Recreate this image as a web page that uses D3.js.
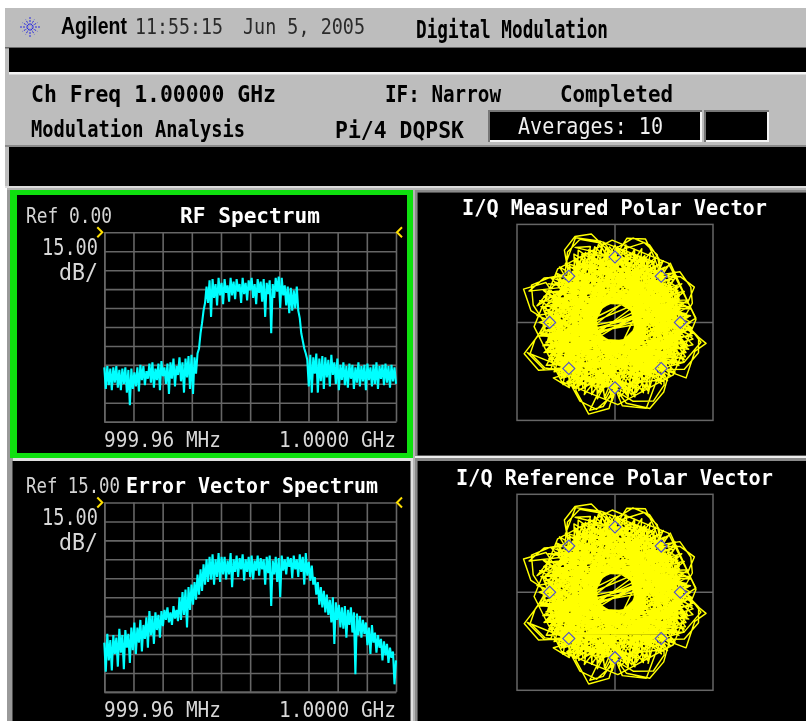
<!DOCTYPE html>
<html><head><meta charset="utf-8">
<script src="https://cdn.jsdelivr.net/npm/d3@7"></script>
<style>html,body{margin:0;padding:0;background:#fff;overflow:hidden}svg{display:block;filter:blur(0.45px)}</style>
</head><body><svg id="c" width="806" height="721"></svg>
<script>
// ---- data ----
const rfSpectrum = [
-107,-124,-106,-121,-108,-125,-107,-119,-106,-123,
-109,-125,-108,-120,-107,-127,-109,-137,-108,-124,
-111,-122,-107,-126,-105,-117,-106,-121,-110,-116,
-104,-119,-103,-123,-108,-117,-104,-125,-102,-114,
-107,-120,-104,-128,-103,-116,-100,-122,-106,-113,
-99,-118,-103,-127,-100,-115,-98,-124,-97,-128,-99,-112,
-96,-92,-80,-72,-62,-56,
-43,-56,-38,-67,-37,-52,-41,-58,-36,-50,
-40,-57,-37,-48,-42,-55,-36,-50,-39,-53,
-37,-47,-41,-56,-36,-49,-40,-54,-38,-46,
-36,-52,-41,-57,-37,-48,-39,-55,-37,-67,
-40,-49,-38,-80,-41,-52,-36,-47,-35,-60,
-36,-50,-42,-58,-43,-64,-44,-62,-46,-60,-43,
-62,-68,-80,-86,-92,-96,-101,
-122,-97,-127,-99,-112,-96,-127,-100,-118,-98,
-124,-99,-115,-101,-122,-97,-113,-103,-120,-100,
-125,-105,-117,-103,-121,-106,-123,-104,-116,-105,
-124,-107,-119,-103,-122,-106,-118,-105,-125,-104,
-117,-107,-122,-105,-120,-103,-124,-106,-116,-105,
-121,-104,-119,-106,-123,-105,-118,-107,-120];
const evSpectrum = [
-96,-119,-89,-110,-94,-118,-90,-105,-92,-115,
-85,-104,-90,-117,-86,-100,-89,-112,-84,-102,
-80,-105,-84,-96,-78,-103,-82,-93,-76,-100,
-71,-90,-75,-97,-72,-86,-74,-92,-71,-83,
-70,-78,-68,-80,-72,-82,-67,-77,-70,-79,
-60,-78,-56,-74,-54,-84,-52,-70,-50,-66,
-48,-62,-42,-58,-38,-55,-34,-50,-30,-48,
-28,-46,-26,-50,-30,-44,-25,-48,-28,-42,
-28,-46,-31,-42,-25,-52,-30,-40,-27,-44,
-29,-38,-26,-47,-30,-40,-28,-44,-27,-46,
-31,-39,-27,-43,-29,-38,-30,-50,-28,-41,
-27,-67,-31,-42,-28,-48,-29,-60,-27,-39,
-30,-42,-28,-36,-29,-45,-27,-38,-30,-44,
-26,-40,-28,-50,-25,-43,-32,-47,-35,-50,
-44,-58,-48,-66,-52,-68,-55,-72,-58,-74,
-62,-80,-60,-97,-64,-78,-66,-84,-68,-85,
-67,-92,-70,-82,-68,-88,-72,-121,-73,-90,
-75,-92,-78,-89,-80,-98,-84,-105,-82,-96,
-88,-104,-90,-100,-93,-110,-95,-106,-97,-112,
-100,-108,-103,-129,-110];
// flat pairs: angle in degrees, radius in hundredths of the constellation radius
const measuredTrace = [
45,100,60,118,70,136,82,130,90,100,
225,108,359,100,122,112,250,103,16,110,158,102,283,114,61,100,196,110,338,106,100,100,
240,120,254,146,266,132,270,100,
231,117,9,102,143,111,275,100,54,108,187,104,325,112,82,100,213,109,350,105,113,116,
190,120,199,147,212,138,225,100,
240,102,24,108,165,100,296,110,72,104,204,113,343,100,127,106,258,110,33,102,150,118,
15,115,24,133,35,122,45,100,
302,100,78,109,228,105,5,112,138,100,270,108,48,114,176,100,318,110,86,102,218,106,
315,100,322,138,340,130,347,143,0,100,
108,100,245,111,20,103,154,108,290,100,66,112,200,105,334,109,96,101,224,114,1,100,
105,140,115,145,125,135,135,100,
263,118,38,105,172,100,309,116,92,104,221,108,182,110,310,102,189,115,331,100,67,108,287,112,2,105,
305,130,292,142,278,125,270,100,
150,122,160,149,172,130,180,100,
108,105,215,110,322,102,70,108,178,100,285,112,30,104,140,110,248,102,355,106,103,100,212,114,320,103,65,110,174,101,281,105,27,108,134,100,244,112,350,104,95,110,205,100,312,108,58,102,168,111,276,100,22,106,128,113,237,101,345,108,90,100,198,110,307,105,52,112,162,100,268,109,15,103,122,107,230,100,
222,127,235,122,225,100,
312,110,32,102,112,108,194,104,275,112,355,100,76,108,158,103,239,110,320,100,40,108,121,104,203,112,284,101,5,107,85,103,167,110,247,100,328,109,50,104,130,110,212,101,293,112,14,100,94,109,176,105,256,108,338,102,58,110,
100,126,115,143,128,120,135,100,
113,104,169,112,224,102,280,110,336,103,31,108,86,112,142,100,197,109,253,104,308,112,3,100,59,108,114,115,170,102,225,110,281,104,337,114,32,100,87,110,
70,130,58,122,45,100,
160,140,148,128,135,100,
188,112,327,108,93,100,236,115,12,104,146,110,294,102,63,108,207,112,341,100,118,106,252,114,28,102,156,112,299,104,75,110,
347,135,330,122,315,100,
290,140,275,128,270,100,
192,103,330,110,89,100,226,106,4,112,130,102,267,110,42,100,180,116,316,100,57,109,193,102,328,112,99,100,233,108,7,110,148,100,279,112,51,103,
254,140,262,130,270,100,
199,142,214,130,225,100,
108,122,118,130,90,100,
168,122,150,110,135,100,
210,112,47,104,171,110,304,100,83,112,219,102,353,108,126,106,260,100,36,112,153,104,288,108,69,100,202,114,340,102,110,108,
10,118,160,116,312,120,100,118,252,116,40,120,190,118,343,116,135,120,285,118,75,116,226,120,17,118,168,116,320,120,110,118,262,116,52,120,203,118,355,116,145,120,296,118,88,116,238,120,30,118,180,116,332,120,122,118,273,116,63,120,214,118,5,116,156,120,307,118,97,116,247,120,37,118,188,116,340,120,130,118,280,116,70,120,222,118,12,116,164,120,316,118,106,116,257,120,47,118,198,116,350,120,140,118,292,116,82,120,233,118,24,116,175,120,326,118,116,116,268,120,58,118,209,116,
330,122,90,118,212,124,334,120,94,116,216,122,337,118,98,124,219,120,341,116,102,122,223,118,344,124,105,120,227,116,348,122,109,118,230,124,352,120,113,116,234,122,356,118,117,124,238,120,0,116,121,122,242,118,3,124,
48,122,92,126,137,120,183,124,228,122,272,126,318,120,2,124,47,124,
45,100,55,118,66,130,78,132,90,112,90,105,102,125,113,138,124,130,135,108,135,105,146,122,156,140,168,128,180,108,180,104,192,125,200,138,213,128,225,105,225,105,236,118,246,132,258,136,270,108,270,104,283,124,296,134,308,122,315,106,315,102,326,128,340,136,350,130,0,106,0,102,14,122,25,128,38,126,45,104,
295,120,30,110,
195,100,5,100,190,102,12,102,200,102,20,105,207,96,28,100,215,100,38,98,
195,104,14,106,
];
const referenceTrace = measuredTrace;
const constellationAngles = [0,45,90,135,180,225,270,315];
const logoSpokes = [0,30,60,90,120,150,180,210,240,270,300,330];
const freqTicks = [0,1,2,3,4,5,6,7,8,9,10];
const levelTicks = [0,1,2,3,4,5,6,7,8,9,10];

// ---- helpers ----
const svg = d3.select("#c");
const rect=(x,y,w,h,f)=>svg.append("rect").attr("x",x).attr("y",y).attr("width",w).attr("height",h).attr("fill",f);
const MONO="'DejaVu Sans Mono',monospace";
function txt(x1,x2,y,s,o={}){
  return svg.append("text").attr("x",x1).attr("y",y).attr("textLength",x2-x1).attr("lengthAdjust","spacingAndGlyphs")
    .attr("font-family",o.f||MONO).attr("font-size",o.s||19).attr("font-weight",o.b?"bold":"normal").attr("fill",o.c||"#000").text(s);
}
// ---- frame ----
rect(5,8,801,180,"#bdbdbd");
rect(5,47,801,1.5,"#6a6a6a");
rect(9,48,797,24,"#000");
rect(9,72,797,2.5,"#f4f4f4");
rect(5,145,801,2,"#8a8a8a");
rect(9,147,797,39,"#000");
rect(5,186,801,2,"#dcdcdc");
rect(5,188,801,533,"#b4b4b4");
rect(7,190,3,531,"#9a9a9a");
rect(0,188,7,533,"#fff");
rect(10,190,403,268,"#0fe00f");
rect(17,195,390,258,"#000");
rect(415,190,391,2.5,"#8a8a8a");
rect(415,190,2.5,266,"#8a8a8a");
rect(417.5,192.5,389,263,"#000");
rect(415,456,391,2,"#ececec");
rect(10,458,403,263,"#e0e0e0");
rect(10,458,3,263,"#9a9a9a");
rect(12.5,461,398,260,"#000");
rect(415,458,391,3,"#8a8a8a");
rect(415,458,2.5,263,"#8a8a8a");
rect(417.5,461,389,260,"#000");
rect(488,110,214,32,"#f4f4f4");rect(488,110,214,2,"#777");rect(488,110,2,32,"#777");rect(490,112,210,28,"#000");
rect(704,110,65,32,"#f4f4f4");rect(704,110,65,2,"#777");rect(704,110,2,32,"#777");rect(706,112,61,28,"#000");

// ---- header text ----
const logo=svg.append("g").attr("transform","translate(30,27)");
logo.selectAll("line").data(logoSpokes).join("line").attr("x1",d=>2*Math.cos(d*Math.PI/180)).attr("y1",d=>2*Math.sin(d*Math.PI/180))
  .attr("x2",d=>(d%90==0?11:8.5)*Math.cos(d*Math.PI/180)).attr("y2",d=>(d%90==0?11:8.5)*Math.sin(d*Math.PI/180))
  .attr("stroke","#2a2ae0").attr("stroke-width",1).attr("stroke-dasharray","2 1");
txt(61,127,34,"Agilent",{f:"'Liberation Sans',sans-serif",s:23,b:1});
txt(135,223,34,"11:55:15",{s:22,c:"#2a2a2a"});
txt(243,365,34,"Jun 5, 2005",{s:22,c:"#2a2a2a"});
txt(416,608,38,"Digital Modulation",{s:24,b:1});
txt(31,276,102,"Ch Freq 1.00000 GHz",{s:23,b:1});
txt(385,501,102,"IF: Narrow",{s:23,b:1});
txt(560,673,102,"Completed",{s:23,b:1});
txt(31,245,137,"Modulation Analysis",{s:23,b:1});
txt(335,464,138,"Pi/4 DQPSK",{s:23,b:1});
txt(518,663,134,"Averages: 10",{s:23,c:"#f0f0f0"});

// ---- spectrum panels ----
function spectrum(trace,top,dbTop,refLabel,title,tx1,tx2,tBase,refBase,scaleBase,unitBase,labelBase){
  const [L,R,H]=[104.3,396,189.4];
  const x=d3.scaleLinear().domain([0,10]).range([L,R]);
  const y=d3.scaleLinear().domain([0,10]).range([top,top+H]);
  const yDb=d3.scaleLinear().domain([dbTop,dbTop-150]).range([top,top+H]);
  const xI=d3.scaleLinear().domain([0,trace.length-1]).range([L,R]);
  const gx=svg.append("g").attr("transform",`translate(0,${top+H})`).call(d3.axisBottom(x).tickValues(freqTicks).tickFormat("").tickSize(-H).tickSizeOuter(0));
  const gy=svg.append("g").attr("transform",`translate(${L},0)`).call(d3.axisLeft(y).tickValues(levelTicks).tickFormat("").tickSize(-(R-L)).tickSizeOuter(0));
  [gx,gy].forEach(g=>{g.selectAll("line,path").attr("stroke","#666").attr("stroke-width",1.6)});
  svg.append("path").datum(trace).attr("fill","none").attr("stroke","#00ffff").attr("stroke-width",2.1).attr("stroke-linejoin","bevel")
    .attr("d",d3.line().x((d,i)=>xI(i)).y(d=>yDb(d)));
  svg.append("path").attr("d",`M${L-7},${top-5}l5,5l-5,5`).attr("fill","none").attr("stroke","#ffe000").attr("stroke-width",2);
  svg.append("path").attr("d",`M${R+6},${top-5}l-5,5l5,5`).attr("fill","none").attr("stroke","#ffe000").attr("stroke-width",2);
  txt(26,refLabel.length>8?120:112,refBase,refLabel,{c:"#d4d4d4",s:21});
  txt(tx1,tx2,tBase,title,{c:"#fff",b:1,s:22});
  txt(42,98,scaleBase,"15.00",{c:"#d8d8d8",s:23});
  txt(59,98,unitBase,"dB/",{c:"#d8d8d8",s:23});
  txt(104,221,labelBase,"999.96 MHz",{c:"#d8d8d8",s:22});
  txt(279,396,labelBase,"1.0000 GHz",{c:"#d8d8d8",s:22});
}
spectrum(rfSpectrum,232.3,0,"Ref 0.00","RF Spectrum",180,320,223,223,255,280,447);
spectrum(evSpectrum,502.5,15,"Ref 15.00","Error Vector Spectrum",126,378,493,493,525,550,717);

// ---- polar panels ----
function polar(flat,cx,cy,title,t1,t2,tb){
  const trace=d3.range(0,flat.length-1,2).map(i=>[flat[i],flat[i+1]]);
  const r=d3.scaleLinear().domain([0,150]).range([0,98]);
  const a=d3.scaleLinear().domain([0,360]).range([Math.PI/2,Math.PI/2-2*Math.PI]);
  const g=svg.append("g").attr("transform",`translate(${cx},${cy})`);
  const B=r(150);
  g.append("rect").attr("x",-B).attr("y",-B).attr("width",2*B).attr("height",2*B).attr("fill","none").attr("stroke","#666").attr("stroke-width",1.5);
  g.append("line").attr("x1",-B).attr("x2",B).attr("stroke","#666").attr("stroke-width",1.5);
  g.append("line").attr("y1",-B).attr("y2",B).attr("stroke","#666").attr("stroke-width",1.5);
  g.append("path").datum(trace).attr("fill","none").attr("stroke","#ffff00").attr("stroke-width",1.45).attr("stroke-linejoin","round")
    .attr("d",d3.lineRadial().angle(d=>a(d[0])).radius(d=>r(d[1])));
  g.selectAll("path.sym").data(constellationAngles).join("path").attr("class","sym")
    .attr("d",d3.symbol(d3.symbolSquare,72)())
    .attr("transform",d=>`translate(${r(100)*Math.cos(d*Math.PI/180)},${-r(100)*Math.sin(d*Math.PI/180)}) rotate(45)`)
    .attr("fill","none").attr("stroke","#4a4ad8").attr("stroke-width",1.1);
  txt(t1,t2,tb,title,{c:"#fff",b:1,s:22});
}
polar(measuredTrace,615,322.4,"I/Q Measured Polar Vector",462,767,215);
polar(referenceTrace,615,592.3,"I/Q Reference Polar Vector",456,773,485);
</script></body></html>
